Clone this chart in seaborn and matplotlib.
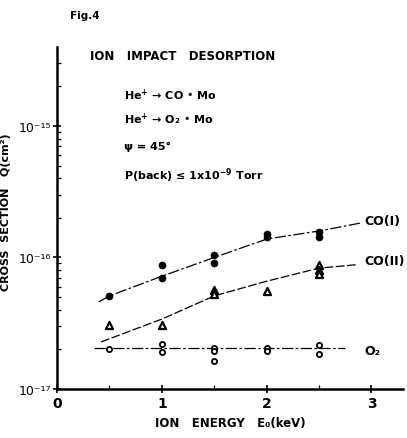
import numpy as np
import pandas as pd
import matplotlib
matplotlib.use("Agg")
import matplotlib.pyplot as plt
import matplotlib.ticker as mticker
import seaborn as sns

# measured points
co1_x = [0.5, 1.0, 1.0, 1.5, 1.5, 2.0, 2.0, 2.5, 2.5]
co1_y = [5.1e-17, 8.8e-17, 7.0e-17, 1.04e-16, 9.1e-17, 1.51e-16, 1.43e-16, 1.57e-16, 1.43e-16]
co2_x = [0.5, 1.0, 1.5, 1.5, 2.0, 2.5, 2.5, 2.5]
co2_y = [3.07e-17, 3.07e-17, 5.65e-17, 5.3e-17, 5.6e-17, 8.8e-17, 8.0e-17, 7.5e-17]
o2_x = [0.5, 1.0, 1.0, 1.5, 1.5, 1.5, 2.0, 2.0, 2.5, 2.5]
o2_y = [2.0e-17, 2.2e-17, 1.9e-17, 2.05e-17, 1.93e-17, 1.63e-17, 2.05e-17, 1.95e-17, 2.16e-17, 1.85e-17]

# hand-drawn fit curves
co1_fit_x = [0.4, 0.5, 1.0, 1.5, 2.0, 2.5, 2.9]
co1_fit_y = [4.6e-17, 5.1e-17, 7.2e-17, 1.0e-16, 1.38e-16, 1.59e-16, 1.83e-16]
co2_fit_x = [0.42, 1.0, 1.5, 2.0, 2.5, 2.85]
co2_fit_y = [2.28e-17, 3.4e-17, 5.1e-17, 6.6e-17, 8.3e-17, 8.8e-17]
o2_fit_x = [0.35, 2.75]
o2_fit_y = [2.05e-17, 2.05e-17]

x_ticks = [0, 1, 2, 3]
y_ticks = [1e-17, 1e-16, 1e-15]
y_tick_labels = ["10⁻¹⁷", "10⁻¹⁶", "10⁻¹⁵"]

sns.set_style("ticks")
plt.rcParams["font.family"] = ["DejaVu Sans"]
plt.rcParams["font.weight"] = "bold"
plt.rcParams["mathtext.default"] = "regular"
for key in ["text.color", "axes.labelcolor", "xtick.color", "ytick.color", "axes.edgecolor"]:
    plt.rcParams[key] = "black"

fig = plt.figure(figsize=(4.07, 4.39), dpi=100)
ax = fig.add_axes([0.140, 0.1116, 0.850, 0.779])

k = dict(color="black", linewidth=0.9, ax=ax, legend=False)
sns.lineplot(x=co1_fit_x, y=co1_fit_y, linestyle=(0, (9, 2, 2, 2)), **k)
sns.lineplot(x=co2_fit_x, y=co2_fit_y, linestyle=(0, (7, 2)), **k)
sns.lineplot(x=o2_fit_x, y=o2_fit_y, linestyle=(0, (9, 2, 2, 2)), **k)

sns.scatterplot(x=co1_x, y=co1_y, marker="o", s=26, color="black", edgecolor="black", ax=ax, zorder=3)
sns.scatterplot(x=co2_x, y=co2_y, marker="^", s=26, facecolor="white", edgecolor="black", linewidth=1.6, ax=ax, zorder=3)
sns.scatterplot(x=o2_x, y=o2_y, marker="o", s=14, facecolor="white", edgecolor="black", linewidth=1.3, ax=ax, zorder=3)

ax.set_yscale("log")
ax.set_ylim(1e-17, 3.98e-15)
ax.set_xlim(0, 3.3)
ax.set_xticks(x_ticks)
ax.set_xticklabels([str(t) for t in x_ticks])
ax.xaxis.set_minor_locator(mticker.MultipleLocator(0.5))
ax.set_yticks(y_ticks)
ax.set_yticklabels(y_tick_labels, fontweight="normal")
ax.yaxis.set_minor_locator(mticker.LogLocator(base=10, subs=np.arange(2, 10), numticks=20))
ax.yaxis.set_minor_formatter(mticker.NullFormatter())

for s in ["top", "right"]:
    ax.spines[s].set_visible(False)
for s in ["left", "bottom"]:
    ax.spines[s].set_linewidth(1.8)
ax.tick_params(axis="both", which="major", direction="inout", length=6, width=1.2, pad=2)
ax.tick_params(axis="x", which="major", labelsize=10)
ax.tick_params(axis="y", which="major", labelsize=9, pad=1)
ax.tick_params(axis="both", which="minor", direction="in", length=3, width=0.9)

ax.set_xlabel("ION   ENERGY   E₀(keV)", fontsize=8.5, fontweight="bold", labelpad=4)
ax.set_ylabel("CROSS  SECTION   Q(cm²)", fontsize=8, fontweight="bold")
ax.yaxis.set_label_coords(-(57 - 11) / 346, 0.52)

fig.text(70 / 407, 1 - 16 / 439, "Fig.4", fontsize=7.5, fontweight="bold", va="center")
fig.text(90 / 407, 1 - 57 / 439, "ION   IMPACT   DESORPTION", fontsize=8.5, fontweight="bold", va="center")
fig.text(124 / 407, 1 - 95 / 439, "He$^{+}$ → CO • Mo", fontsize=8, fontweight="bold", va="center")
fig.text(124 / 407, 1 - 119 / 439, "He$^{+}$ → O₂ • Mo", fontsize=8, fontweight="bold", va="center")
fig.text(124 / 407, 1 - 147 / 439, "ψ = 45°", fontsize=8, fontweight="bold", va="center")
fig.text(124 / 407, 1 - 176 / 439, "P(back) ≤ 1x10$^{-9}$ Torr", fontsize=8, fontweight="bold", va="center")

fig.text(364 / 407, 1 - 221 / 439, "CO(I)", fontsize=9, fontweight="bold", va="center")
fig.text(364 / 407, 1 - 262 / 439, "CO(II)", fontsize=9, fontweight="bold", va="center")
fig.text(364 / 407, 1 - 352 / 439, "O₂", fontsize=9, fontweight="bold", va="center")

fig.savefig("out.png", dpi=100)
